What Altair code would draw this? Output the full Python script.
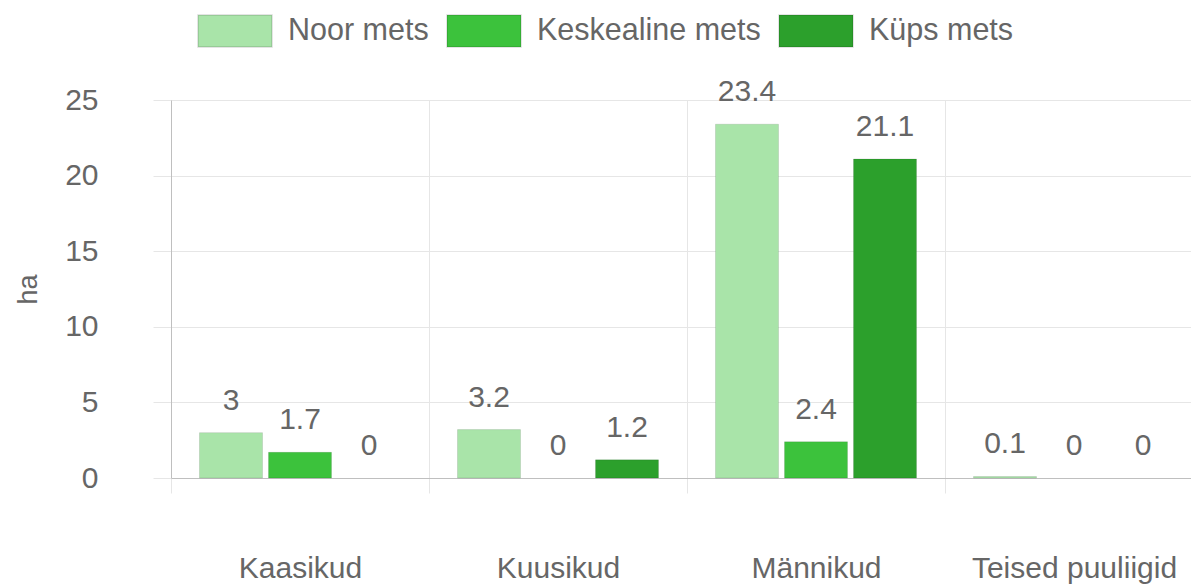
import altair as alt
import pandas as pd

categories = ["Kaasikud", "Kuusikud", "Männikud", "Teised puuliigid"]
series = ["Noor mets", "Keskealine mets", "Küps mets"]
noor = [3, 3.2, 23.4, 0.1]
keskealine = [1.7, 0, 2.4, 0]
kups = [0, 1.2, 21.1, 0]
fills = ["#a9e4a9", "#3cc23c", "#2ca02c"]
y_ticks = [0, 5, 10, 15, 20, 25]

rows = []
for s, vals in zip(series, [noor, keskealine, kups]):
    for c, v in zip(categories, vals):
        rows.append({"category": c, "series": s, "value": v, "label": f"{v:g}"})
df = pd.DataFrame(rows)

W, H = 1020, 378
XRANGE = 1032
FONT = "Liberation Sans"
GREY = "#666666"

x = alt.X(
    "category:N", sort=categories,
    scale=alt.Scale(paddingInner=0, paddingOuter=0, range=[0, XRANGE]),
    axis=alt.Axis(title=None, tickBand="extent", grid=True, gridColor="#e6e6e6",
                  tickColor="#e6e6e6", tickSize=15, domainColor="#bfbfbf",
                  labelFontSize=30, labelColor=GREY, labelFont=FONT, labelLimit=500,
                  labelBaseline="alphabetic", labelPadding=84, labelAngle=0),
)
xo = alt.XOffset("series:N", sort=series,
                 scale=alt.Scale(paddingInner=0.087, paddingOuter=0.413))
y = alt.Y(
    "value:Q",
    scale=alt.Scale(domain=[0, 25], nice=False),
    axis=alt.Axis(values=y_ticks, title="ha", gridColor="#e6e6e6", tickColor="#e6e6e6",
                  tickSize=18, domainColor="#bfbfbf", labelFontSize=30, labelColor=GREY,
                  labelFont=FONT, labelPadding=55, titleFontSize=27, titleColor=GREY,
                  titleFont=FONT, titleFontWeight="normal", titleX=-143, titleY=189,
                  titleAlign="center", titleBaseline="middle", titleAngle=270),
)

bars = alt.Chart(df).transform_filter("datum.value > 0").mark_bar(
    strokeWidth=1, stroke="rgba(0,0,0,0.1)"
).encode(
    x=x, xOffset=xo, y=y,
    fill=alt.Fill("series:N", sort=series,
                  scale=alt.Scale(domain=series, range=fills),
                  legend=alt.Legend(title=None, orient="none", legendX=26, legendY=-107,
                                    direction="horizontal", columns=3,
                                    symbolType="M-1,-0.4324H1V0.4324H-1Z", symbolSize=5476,
                                    symbolStrokeWidth=1.5, symbolStrokeColor="rgba(0,0,0,0.14)",
                                    labelFontSize=30.5, labelColor=GREY,
                                    labelFont=FONT, labelOffset=15, columnPadding=15,
                                    labelLimit=500)),
)

labels = alt.Chart(df).mark_text(dy=-23, baseline="alphabetic", align="center",
                                 fontSize=30, color=GREY, font=FONT).encode(
    x=x, xOffset=xo, y=y, text="label:N",
)

chart = alt.layer(bars, labels).properties(
    width=W, height=H,
    autosize="none",
    padding={"left": 163, "top": 92, "right": 0, "bottom": 110},
).configure_view(stroke=None).configure(font=FONT)

chart.save("out.html", embed_options={"renderer": "svg", "actions": False})
